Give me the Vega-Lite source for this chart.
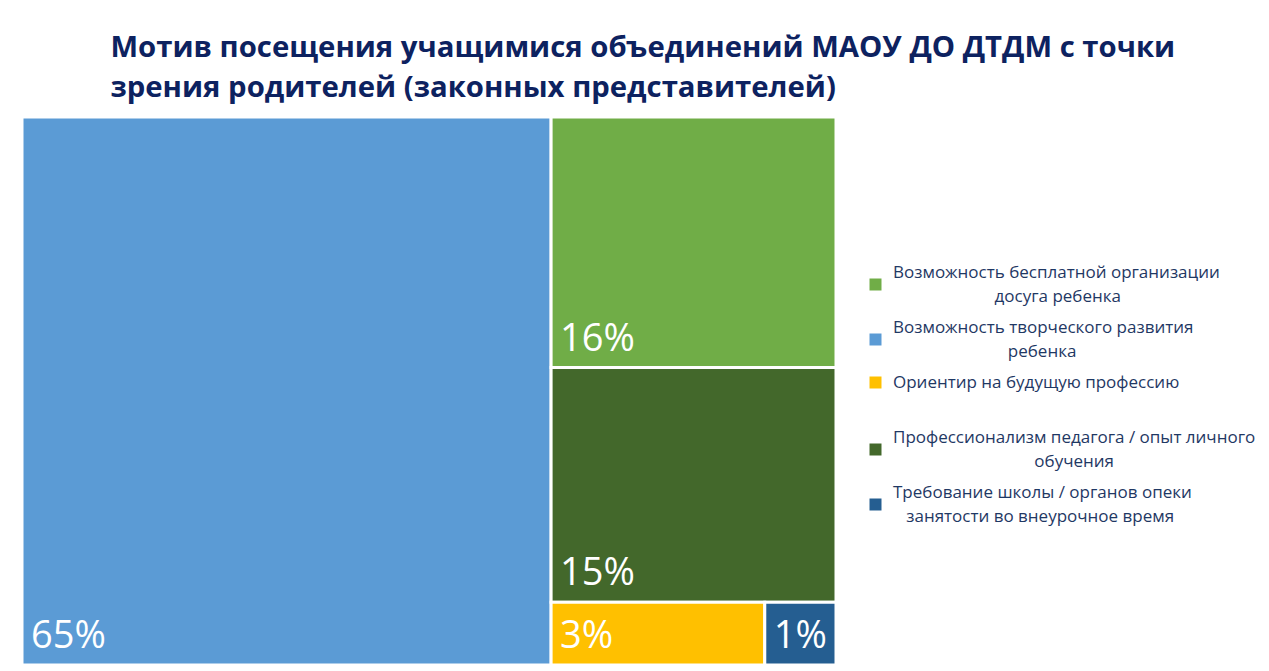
{
  "$schema": "https://vega.github.io/schema/vega-lite/v6.json",
  "width": 814,
  "height": 548,
  "autosize": {"type": "none"},
  "padding": {"left": 22, "top": 117, "right": 433, "bottom": 6},
  "background": "white",
  "config": {
    "style": {"guide-label": {"lineHeight": 24}},
    "legend": {
      "orient": "none",
      "legendX": 845,
      "legendY": 147,
      "gridAlign": "all",
      "symbolSize": 144,
      "symbolStrokeWidth": 0,
      "symbolOpacity": 1,
      "labelFont": "Open Sans",
      "labelFontSize": 17,
      "labelColor": "#1F3864",
      "labelLimit": 0,
      "labelOffset": 9,
      "labelAlign": "left",
      "rowPadding": 13
    }
  },
  "title": {
    "text": ["Мотив посещения учащимися объединений МАОУ ДО ДТДМ с точки", "зрения родителей (законных представителей)"],
    "anchor": "start",
    "dx": 90,
    "offset": 12,
    "font": "Open Sans",
    "fontSize": 29.3,
    "fontWeight": "bold",
    "color": "#0D2260",
    "lineHeight": 40
  },
  "data": {
    "values": [
      {"cat": "Возможность творческого развития ребенка", "value": 65, "col": 1, "row": 1, "pos": 1},
      {"cat": "Возможность бесплатной организации досуга ребенка", "value": 16, "col": 2, "row": 1, "pos": 1},
      {"cat": "Профессионализм педагога / опыт личного обучения", "value": 15, "col": 2, "row": 2, "pos": 1},
      {"cat": "Ориентир на будущую профессию", "value": 3, "col": 2, "row": 3, "pos": 1},
      {"cat": "Требование школы / органов опеки занятости во внеурочное время", "value": 1, "col": 2, "row": 3, "pos": 2}
    ]
  },
  "transform": [
    {"joinaggregate": [{"op": "sum", "field": "value", "as": "colTotal"}], "groupby": ["col"]},
    {"window": [{"op": "sum", "field": "value", "as": "colEnd"}], "sort": [{"field": "col", "order": "ascending"}], "frame": [null, 0]},
    {"joinaggregate": [{"op": "sum", "field": "value", "as": "rowTotal"}], "groupby": ["col", "row"]},
    {"window": [{"op": "sum", "field": "value", "as": "rowEnd"}], "groupby": ["col"], "sort": [{"field": "row", "order": "ascending"}], "frame": [null, 0]},
    {"window": [{"op": "sum", "field": "value", "as": "posEnd"}], "groupby": ["col", "row"], "sort": [{"field": "pos", "order": "ascending"}], "frame": [null, 0]},
    {"calculate": "datum.colEnd - datum.colTotal + (datum.posEnd - datum.value) / datum.rowTotal * datum.colTotal", "as": "x0"},
    {"calculate": "datum.colEnd - datum.colTotal + datum.posEnd / datum.rowTotal * datum.colTotal", "as": "x1"},
    {"calculate": "(datum.rowEnd - datum.rowTotal) / datum.colTotal * 100", "as": "y0"},
    {"calculate": "datum.rowEnd / datum.colTotal * 100", "as": "y1"},
    {"calculate": "datum.value + '%'", "as": "label"}
  ],
  "layer": [
    {
      "mark": {"type": "rect", "stroke": "white", "strokeWidth": 3},
      "encoding": {
        "x": {"field": "x0", "type": "quantitative", "scale": {"domain": [0, 100], "nice": false, "zero": false}, "axis": null},
        "x2": {"field": "x1"},
        "y": {"field": "y0", "type": "quantitative", "scale": {"domain": [0, 100], "nice": false, "zero": false, "reverse": true}, "axis": null},
        "y2": {"field": "y1"},
        "color": {
          "field": "cat",
          "type": "nominal",
          "scale": {
            "domain": [
              "Возможность бесплатной организации досуга ребенка",
              "Возможность творческого развития ребенка",
              "Ориентир на будущую профессию",
              "Профессионализм педагога / опыт личного обучения",
              "Требование школы / органов опеки занятости во внеурочное время"
            ],
            "range": ["#70AD47", "#5B9BD5", "#FFC000", "#43682B", "#255E91"]
          },
          "legend": {
            "title": null,
            "labelExpr": "datum.label == 'Возможность бесплатной организации досуга ребенка' ? ['Возможность бесплатной организации', '\u200b' + pad('', 23, '\u00a0') + 'досуга ребенка'] : datum.label == 'Возможность творческого развития ребенка' ? ['Возможность творческого развития', '\u200b' + pad('', 26, '\u00a0') + 'ребенка'] : datum.label == 'Профессионализм педагога / опыт личного обучения' ? ['Профессионализм педагога / опыт личного', '\u200b' + pad('', 32, '\u00a0') + 'обучения'] : datum.label == 'Требование школы / органов опеки занятости во внеурочное время' ? ['Требование школы / органов опеки', '\u200b' + pad('', 3, '\u00a0') + 'занятости во внеурочное время'] : datum.label"
          }
        }
      }
    },
    {
      "mark": {"type": "point", "filled": true, "opacity": 0, "size": 1},
      "encoding": {
        "x": {"field": "x0", "type": "quantitative"},
        "y": {"field": "y0", "type": "quantitative"},
        "color": {"field": "cat", "type": "nominal"},
        "shape": {
          "field": "cat",
          "type": "nominal",
          "scale": {
            "domain": [
              "Возможность бесплатной организации досуга ребенка",
              "Возможность творческого развития ребенка",
              "Ориентир на будущую профессию",
              "Профессионализм педагога / опыт личного обучения",
              "Требование школы / органов опеки занятости во внеурочное время"
            ],
            "range": ["M-1,1H1V3H-1Z", "M-1,1H1V3H-1Z", "M-1,-1H1V1H-1Z", "M-1,1H1V3H-1Z", "M-1,1H1V3H-1Z"]
          },
          "legend": {
            "title": null,
            "labelExpr": "datum.label == 'Возможность бесплатной организации досуга ребенка' ? ['Возможность бесплатной организации', '\u200b' + pad('', 23, '\u00a0') + 'досуга ребенка'] : datum.label == 'Возможность творческого развития ребенка' ? ['Возможность творческого развития', '\u200b' + pad('', 26, '\u00a0') + 'ребенка'] : datum.label == 'Профессионализм педагога / опыт личного обучения' ? ['Профессионализм педагога / опыт личного', '\u200b' + pad('', 32, '\u00a0') + 'обучения'] : datum.label == 'Требование школы / органов опеки занятости во внеурочное время' ? ['Требование школы / органов опеки', '\u200b' + pad('', 3, '\u00a0') + 'занятости во внеурочное время'] : datum.label"
          }
        }
      }
    },
    {
      "mark": {"type": "text", "align": "left", "baseline": "alphabetic", "dx": 9, "dy": -17, "font": "Open Sans", "fontSize": 38, "color": "white"},
      "encoding": {
        "x": {"field": "x0", "type": "quantitative"},
        "y": {"field": "y1", "type": "quantitative"},
        "text": {"field": "label"}
      }
    }
  ]
}
